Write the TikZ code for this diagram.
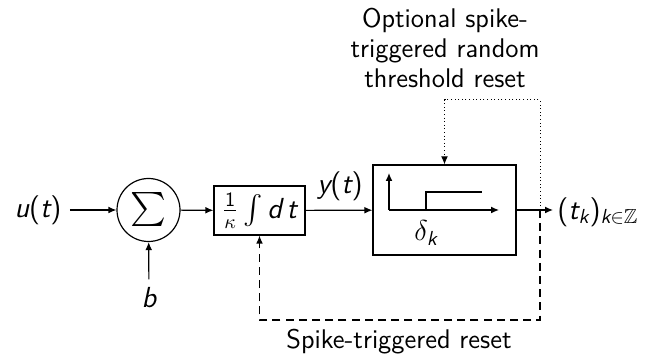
\documentclass[tikz,border=0pt]{standalone}
\usepackage{amsmath,amssymb}
\usetikzlibrary{arrows.meta}
% slanted sans letters for variables (scale in sub- and superscripts)
\newcommand{\sv}[1]{\text{\sffamily\slshape #1}}

\begin{document}
\begin{tikzpicture}[x=0.5pt, y=-0.5pt,
  font=\fontsize{13.5}{15}\selectfont\sffamily,
  blk/.style={draw, line width=0.6pt, inner sep=0pt},
  sig/.style={line width=0.6pt, -{Latex[length=4pt,width=3.4pt]}},
  rst/.style={line width=0.6pt, dash pattern=on 4pt off 2.6pt},
  opt/.style={line width=0.5pt, dash pattern=on 0.5pt off 1.3pt},
  lbl/.style={inner sep=4pt},
  mth/.style={font=\fontsize{14.5}{16}\selectfont\sffamily}]
\useasboundingbox (0,0) rectangle (655,358);

% blocks
\node[blk, circle, minimum size=31.5pt] (sum) at (148.5,210) {\fontsize{17}{18}\selectfont$\sum$};
\node[blk, mth, minimum width=45.5pt, minimum height=24.5pt] (integ) at (259.5,210.5)
  {$\frac{\text{1}}{\kappa}\int \sv{d\,t}$};
\node[blk, minimum width=71.5pt, minimum height=45pt] (thr) at (444.5,210) {};

% threshold characteristic inside the comparator block
\coordinate (org) at (389,210);
\draw[sig] (org) -- (389,173);
\draw[sig] (org) -- (499,210);
\draw[line width=0.6pt] (426,210) -- (426,192) -- (482,192);
\node[mth] (dk) at (426,233) {$\delta_{\sv{k}}$};

% signals
\node[lbl, mth] (u) at (38,210) {\sv{u}(\sv{t})};
\node[lbl, mth] (b) at (149,298) {\sv{b}};
\node[mth] (y) at (340,186) {\sv{y}(\sv{t})};
\node[mth, anchor=west, inner sep=2pt] (out) at (553,212) {(\sv{t}$_{\sv{k}}$)$_{\sv{k}\in\mathbb{Z}}$};

\draw[sig] (u) -- (sum);
\draw[sig] (b) -- (sum);
\draw[sig] (sum) -- (integ);
\draw[sig] (integ) -- (thr);
\draw[sig] (thr) -- (thr.east -| out.west);

% reset paths
\coordinate (tap) at (540,210);
\coordinate (top) at (540,100);
\coordinate (bot) at (540,320);
\draw[opt, -{Latex[length=4pt,width=3.4pt]}] (tap) -- (top) -| (thr.north);
\draw[rst, -{Latex[length=4pt,width=3.4pt]}] (tap) -- (bot) -| (integ.south);

\node[align=center] (optlbl) at (445,48) {Optional spike-\\triggered random\\threshold reset};
\node (rstlbl) at (399,342) {Spike-triggered reset};
\end{tikzpicture}
\end{document}
